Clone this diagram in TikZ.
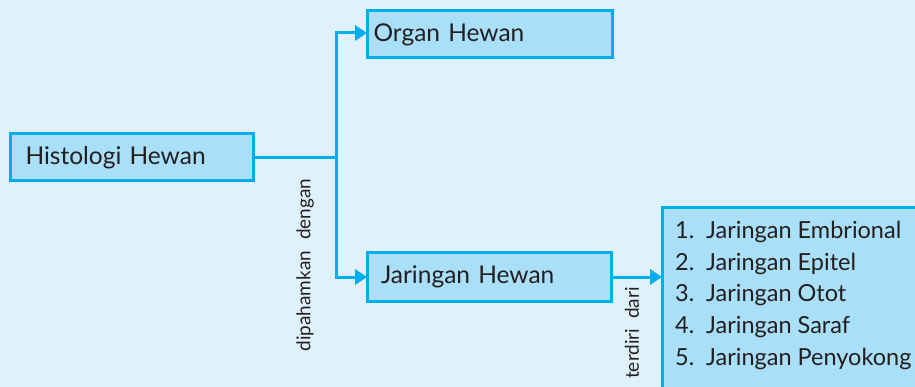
\documentclass[tikz,border=0pt]{standalone}
\usepackage{fontspec}
\setmainfont{Lato}
\usetikzlibrary{arrows.meta}
\definecolor{bg}{HTML}{DFF2FC}
\definecolor{boxfill}{HTML}{A9DFF8}
\definecolor{cyanline}{HTML}{00AEEF}
\definecolor{txt}{HTML}{231F20}
\tikzset{
  hbox/.style={draw=cyanline, line width=3pt, fill=boxfill, text=txt, inner sep=0pt, outer sep=0pt, font=\fontsize{24.5}{28}\selectfont},
  conn/.style={draw=cyanline, line width=3pt},
  arr/.style={conn, -{Triangle[length=12pt,width=15pt]}},
  lbl/.style={text=txt, font=\fontsize{19}{22}\selectfont, rotate=90, inner sep=0pt}
}
\begin{document}
\begin{tikzpicture}[x=1pt,y=-1pt]
\fill[bg] (0,0) rectangle (915,387);
\useasboundingbox (0,0) rectangle (915,387);
\node[hbox, minimum width=243pt, minimum height=47pt, anchor=north west, text width=230pt, align=left] (hist) at (10,134) {\hspace*{9pt}Histologi Hewan};
\node[hbox, minimum width=245pt, minimum height=47pt, anchor=north west, text width=236pt, align=left] (organ) at (367,11) {\hspace*{2pt}Organ Hewan};
\node[hbox, minimum width=244pt, minimum height=48pt, anchor=north west, text width=236pt, align=left] (jar) at (367,253) {\hspace*{10pt}Jaringan Hewan};
\node[hbox, minimum width=270pt, minimum height=200pt, anchor=north west] (list) at (662,208) {};
\node[text=txt, anchor=north west, inner sep=0pt, font=\fontsize{23.5}{31.7}\selectfont, align=left] (items) at (675,221) {%
\makebox[31pt][l]{1.}Jaringan Embrional\\
\makebox[31pt][l]{2.}Jaringan Epitel\\
\makebox[31pt][l]{3.}Jaringan Otot\\
\makebox[31pt][l]{4.}Jaringan Saraf\\
\makebox[31pt][l]{5.}Jaringan Penyokong};
\coordinate (top) at (336,33);
\coordinate (junc) at (top |- hist.east);
\coordinate (bot) at (336,277);
\draw[conn] (hist.east) -- (junc);
\draw[arr] (junc) -- (top) -- (organ.west |- top);
\draw[arr] (junc) -- (bot) -- (jar.west |- bot);
\draw[arr] (jar.east |- bot) -- (list.west |- bot);
\node[lbl] (l1) at (305,265) {dipahamkan\hspace{11pt}dengan};
\node[lbl] (l2) at (632,333) {terdiri\hspace{10pt}dari};
\end{tikzpicture}
\end{document}
